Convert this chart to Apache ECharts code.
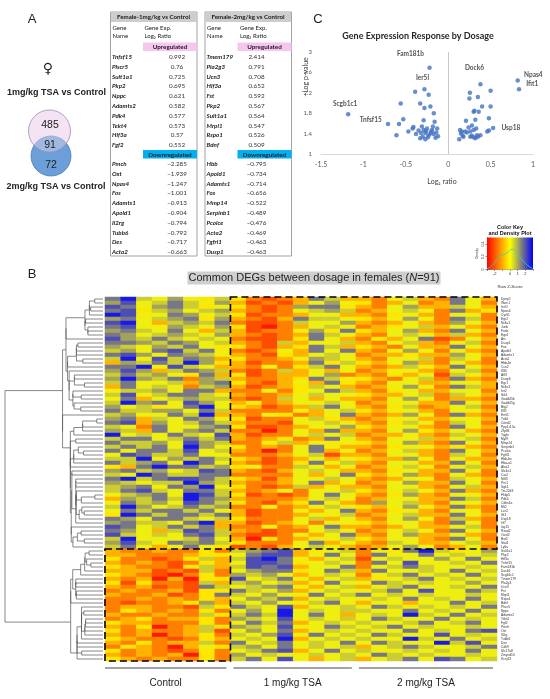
<!DOCTYPE html>
<html>
<head>
<meta charset="utf-8">
<script src="https://cdn.jsdelivr.net/npm/echarts@6.0.0/dist/echarts.min.js"></script>
<style>
html, body { margin: 0; padding: 0; background: #fff; }
#main { width: 550px; height: 699px; }
</style>
</head>
<body>
<div id="main"></div>
<script>
// ---- panel A: venn + tables ----
const vennCounts = [485, 91, 72]
const vennLabels = ['1mg/kg TSA vs Control', '2mg/kg TSA vs Control']

const table1Title = 'Female-1mg/kg vs Control'
const table1UpGenes = ['Tnfsf15', 'Plscr5', 'Sult1a1', 'Pkp2', 'Nppc', 'Adamts2', 'Pdk4', 'Tekt4', 'Hif3a', 'Fgf2']
const table1UpRatio = [0.992, 0.76, 0.725, 0.695, 0.621, 0.582, 0.577, 0.573, 0.57, 0.552]
const table1DownGenes = ['Pmch', 'Oxt', 'Npas4', 'Fos', 'Adamts1', 'Apold1', 'Il2rg', 'Tubb6', 'Des', 'Acta2']
const table1DownRatio = [-2.285, -1.939, -1.247, -1.001, -0.913, -0.904, -0.794, -0.792, -0.717, -0.663]

const table2Title = 'Female-2mg/kg vs Control'
const table2UpGenes = ['Tmem179', 'Pla2g3', 'Ucn3', 'Hif3a', 'Fst', 'Pkp2', 'Sult1a1', 'Mrpl1', 'Rspo1', 'Bdnf']
const table2UpRatio = [2.414, 0.791, 0.708, 0.652, 0.592, 0.567, 0.564, 0.547, 0.526, 0.509]
const table2DownGenes = ['Hbb', 'Apold1', 'Adamts1', 'Fos', 'Mmp14', 'Serpinb1', 'Pcolce', 'Acta2', 'Fgfrl1', 'Dusp1']
const table2DownRatio = [-0.795, -0.734, -0.714, -0.656, -0.522, -0.489, -0.476, -0.469, -0.463, -0.463]

// ---- panel C: volcano ----
const volcanoPoints = [
  [-0.58, 1.59], [-0.53, 1.68], [-0.56, 1.99], [-0.61, 1.37], [-0.47, 1.44], [-0.42, 1.50],
  [-0.41, 1.53], [-0.39, 2.22], [-0.33, 1.99], [-0.28, 1.90], [-0.23, 2.16], [-0.29, 1.66],
  [-0.38, 1.39], [-0.31, 1.54], [-0.29, 1.47], [-0.33, 1.31], [-0.27, 1.41], [-0.25, 1.50],
  [-0.23, 1.37], [-0.20, 1.44], [-0.18, 1.54], [-0.17, 1.39], [-0.16, 1.63], [-0.21, 1.93],
  [-0.15, 1.32], [-0.12, 1.35], [-0.30, 1.34], [-0.27, 1.29], [-0.17, 1.80], [-0.19, 1.47],
  [-0.14, 1.42], [-0.26, 1.45], [-0.35, 1.46], [-0.21, 1.40], [-0.24, 1.33], [-0.13, 1.50],
  [-0.32, 1.41],
  [0.50, 2.24], [0.256, 2.20], [0.25, 2.09], [0.35, 2.12], [0.40, 1.93], [0.50, 1.93],
  [0.31, 1.85], [0.36, 1.83], [0.30, 1.83], [0.48, 1.70], [0.32, 1.67], [0.21, 1.65],
  [0.28, 1.56], [0.24, 1.52], [0.30, 1.47], [0.26, 1.44], [0.14, 1.47], [0.16, 1.44],
  [0.20, 1.44], [0.13, 1.29], [0.18, 1.34], [0.26, 1.34], [0.30, 1.33], [0.35, 1.34],
  [0.38, 1.37], [0.46, 1.44], [0.48, 1.46], [0.15, 1.40], [0.32, 1.31], [0.28, 1.36],
  [0.33, 1.50], [0.17, 1.36], [0.34, 1.37], [0.22, 1.42]
]
const volcanoNamed = [
  ['Scgb1c1', -1.18, 1.78], ['Tnfsf15', -0.71, 1.59], ['Fam181b', -0.22, 2.69], ['Ier5l', -0.28, 2.27],
  ['Dock6', 0.38, 2.37], ['Npas4', 0.82, 2.44], ['Ifit1', 0.835, 2.27], ['Usp18', 0.53, 1.51]
]
const volcanoXTicks = [-1.5, 1, 0.5]   // min, max, step
const volcanoYTicks = [1, 3, 0.4]

// ---- panel B: heatmap (row z-scores, one letter per cell) ----
const zLevel = { R: -2.7, r: -2.1, o: -1.5, a: -0.9, y: -0.3, Y: 0.2, l: 0.6, g: 1.1, G: 1.6, b: 2.1, B: 2.7 }
const sampleGroups = ['Control', '1 mg/kg TSA', '2 mg/kg TSA']
const controlCells = [
  'GBlYgYyl', 'gbYlGlYg', 'bGYgGlyY', 'GbylgYlg', 'BbYYGgYl', 'gGYlgGyg', 'bBYalglG', 'GbYYglYg',
  'gGlYGYal', 'GgYlglYg', 'bglGlYlY', 'GGglGgYl', 'glYglGYy', 'lgYGblGY', 'GbgYGglY', 'lBYblGga',
  'aglGlBgy', 'GGBYblYa', 'gbgalGgl', 'lGlgYyGa', 'gBglGogl', 'lGYYlagG', 'aGYlYolg', 'YllgYGGa',
  'lbYlGGlY', 'YGaYlgll', 'lBgGYbgY', 'gYlyYGBY', 'GllggYGl', 'lgYYGlBa', 'gGalYGgY', 'GbagYlGl',
  'lYoGYYgG', 'glaGYgGl', 'BYlYGlYb', 'lGGYlGlG', 'GllgYbgl', 'lGlGYBgY', 'GYGGlbYl', 'YbGllGYY',
  'llBYglGl', 'GlgGYBGY', 'yaGBGGlg', 'gGlgYlbG', 'lYBGllGG', 'GBlGbbGl', 'glYllBgl', 'lgGYGgBY',
  'lGblYGGl', 'YlgGYBbl', 'aglGlBGg', 'YGlgYbGl', 'lBgYlGlg', 'YGlGGlGY', 'yBGlGGlG', 'GgYGGlYl',
  'gGllYGBa', 'bGYlGlGa', 'GgYalbGl', 'blYlYGbl', 'lBYYYlGY', 'gblYGgGl', 'lGYaYGYy',
  'aooaooyo', 'aaoooayy', 'yooroyla', 'aoaoroya', 'yaooryla', 'aaarorlo', 'yaorRoyo', 'aoaRaRyy',
  'yryoorla', 'aoarorGl', 'oaooaryy', 'aooaroyG', 'ooaoaoya', 'orooayga', 'oaaoorly', 'oyaoaoyo',
  'aooaooly', 'oayoaayo', 'yaaoooyo', 'aoyRoaly', 'yoaooalr', 'aoaRoayo', 'yaooroya', 'aoyoaalo',
  'oyaoRaYy', 'yoaoroyo', 'aoaoaRyo', 'yaoaooyo'
]
const tsa1Cells = [
  'yoroaGla', 'aroraYgY', 'yorogGGy', 'aoroYlgl', 'yrooaYYa', 'aoraGllY', 'orrolYYg', 'yrRoaYlY',
  'arooYgyG', 'aoroaGlY', 'orroyGYa', 'aorlaYYl', 'yorayGla', 'oroYaGYG', 'aoryaYlY', 'yooaYglY',
  'arooaGyl', 'aoYoylGY', 'orolaYaY', 'yroaaYgo', 'aooayGlY', 'yoraYaGy', 'aroaylYa', 'ooYoyYGl',
  'aooaYlYY', 'orolYaYa', 'aYoaYYlY', 'yaroalGY', 'ooooYaYl', 'aoYyoaYG', 'yrooYlya', 'aoorYYlY',
  'yrroaYYg', 'ooRoYaGa', 'arooYlYl', 'aoayoaGY', 'ooYlaYyY', 'yoaoYGYa', 'aoRoYGaY', 'oooaYlra',
  'yaroaYaY', 'aoroyGYl', 'yYoolYaY', 'aoraYlYa', 'ooooYaYG', 'yaraYYlY', 'aooaYGaY', 'yorolaYa',
  'aoaYoYYl', 'yroroYGY', 'aoooaYlY', 'yorayGYa', 'ooYoaYlY', 'arooYaYG', 'arooaYYl', 'yoooYlaY',
  'aroaYoYY', 'ooYoaYGa', 'aorooYlY', 'orroYaYG', 'aRyoaYYl', 'yoooYGaY', 'roraYlYa',
  'lgGbayYl', 'YGbbaYGY', 'lbBGYaYl', 'YbbGyYlY', 'lbGbaYYG', 'YgGGyYGl', 'glgYaYlY', 'bYlGYaYl',
  'lgYlaYGY', 'YlgGYaYl', 'GlYgaYlY', 'lYgYYGYl', 'YglGaYlY', 'lYgYYlGY', 'GlYbaYYl', 'YgYBYlYl',
  'lGlBYGYa', 'glYbYlYl', 'YGlGaYlY', 'glYbYYGl', 'YgYGaYlY', 'lYgbYGYl', 'YlYBaYlY', 'GYlGYlYG',
  'lgYGYlYl', 'YlGbaYGY', 'gYlYYlYl', 'lGYbYaYl'
]
const tsa2Cells = [
  'aoYlaoGYa', 'yoaYoaGYo', 'aoYgaalYa', 'oaYlYoGay', 'aoyYaoYYo', 'yaYgYoGlo', 'aoaYaogYa', 'oayYlaYao',
  'yaYgaoGYa', 'aoYlYalao', 'oyaYGroYa', 'aoYlaoYlo', 'yaoYaaGYa', 'aoYgYoYao', 'oaayaagYa', 'aoYYlolYo',
  'yaYgaoYao', 'aoalYaGYa', 'oaYYaoYlo', 'aoyaYrlYa', 'yaoYloGao', 'aoYYaaYYa', 'oaYgYoGla', 'aoyYaaYYo',
  'yaaYlolYa', 'aoYgYoaao', 'oaYYaaGYa', 'aoyloaYlo', 'yaYYaoYYa', 'aoagYoGao', 'oaYYaaYYa', 'aoylYolYo',
  'yaYYaoGYa', 'aoYgyaYao', 'oaaYaolYa', 'aoYYlaYlo', 'yaYgaoGYa', 'aoyYYayao', 'oaYlaoGYa', 'aoYYaolYo',
  'yaagYoYaa', 'aoYYaaGYo', 'oaYlYoYla', 'aoyYaaGYo', 'yaYgaoYao', 'aoaYYolYa', 'oaYgaaGYo', 'aoYYaoYla',
  'yaYlYaGao', 'aoygaoYYa', 'oaYYaaGlo', 'ogYlaoYYa', 'yaYgYaGao', 'aoyYaoYYo', 'oaYlaaGYa', 'aoYgYolao',
  'yaYYaoGYo', 'aoaYaaYlo', 'oaYlYoGYa', 'aoYgaaYao', 'yaYYaoGYo', 'aolYaaYla', 'oaYgYoaYo',
  'oYyGBlyYg', 'oGYYGYlYl', 'rYlYYgYGY', 'oGYbYYlYG', 'oYlGlYYlY', 'aGYYlYGYl', 'oYlGYlYGY', 'ayYlGYlYl',
  'YGlYlYYgY', 'aYlGYYlYG', 'YlGYbYYGl', 'GYlYlYYlY', 'YlYGYlYGY', 'aYYaYYGYl', 'YGlYlYlYG', 'lYYGYlYGY',
  'YlYBlYGYl', 'YGlYYGYlY', 'lYYlGYlGY', 'YlGYlYYlY', 'lYYGYlYGb', 'YGlYYbYlY', 'lYYBlYGYl', 'YGlYYBlbY',
  'aYlGlYYlG', 'lYYlYlYGY', 'YGlYlYYlY', 'aYlGYbGYl'
]
const geneNames = [
  'Dpep1', 'Wwc1', 'Ier5l', 'Npas4', 'Cyr61', 'Egr2', 'Nr4a1', 'Junb', 'Fosb', 'Egr4', 'Arc', 'Dusp1',
  'Fos', 'Apold1', 'Adamts1', 'Acta2', 'Hbb-bt', 'Ccn2', 'Klf4', 'Atf3', 'Dusp6', 'Egr1', 'Nr4a3', 'Ier2',
  'Sik1', 'Gadd45b', 'Gadd45g', 'Btg2', 'Klf2', 'Errfi1', 'Trib1', 'Cited2', 'Ppp1r15a', 'Zfp36', 'Tagln',
  'Myl9', 'Mmp14', 'Serpinb1', 'Pcolce', 'Fgfrl1', 'Hbb-bs', 'Hba-a1', 'Alas2', 'Slc4a1', 'Car2', 'Nfil3',
  'Per1', 'Sgk1', 'Tsc22d3', 'Fkbp5', 'Pdk4', 'Cdkn1a', 'Mt2', 'Lcn2', 'Ifit1', 'Usp18', 'Irf7', 'Isg15',
  'Rsad2', 'Oasl2', 'Bst2', 'Stat1', 'Ly6a',
  'Sult1a1', 'Pkp2', 'Hif3a', 'Tnfsf15', 'Fam181b', 'Dock6', 'Scgb1c1', 'Tmem179', 'Pla2g3', 'Ucn3', 'Fst',
  'Mrpl1', 'Rspo1', 'Bdnf', 'Plscr5', 'Nppc', 'Adamts2', 'Tekt4', 'Fgf2', 'Pmch', 'Oxt', 'Il2rg', 'Tubb6',
  'Des', 'Cdh9', 'Slc17a8', 'Zmynd10', 'Kcnj13'
]
const upperClusterRows = 63
const keyTicks = [-2, 0, 1, 2]

// ---------------------------------------------------------------
const SANS = 'Liberation Sans, Arial, sans-serif'
const CAL = 'Lato, Open Sans, sans-serif'

const nCtrl = controlCells[0].length
const nT1 = tsa1Cells[0].length
const nT2 = tsa2Cells[0].length
const nCols = nCtrl + nT1 + nT2
const rowsZ = geneNames.map((g, i) => (controlCells[i] + tsa1Cells[i] + tsa2Cells[i]).split('').map(c => zLevel[c]))
const heatData = []
rowsZ.forEach((row, r) => row.forEach((z, c) => heatData.push([c, r, z])))
const sampleNames = []
for (let i = 0; i < nCols; i++) sampleNames.push('S' + (i + 1))

// order-preserving average linkage, so the tree lines up with the rows as drawn
function buildDendrogram(rows) {
  const dist = (a, b) => Math.sqrt(a.reduce((s, v, k) => s + (v - b[k]) * (v - b[k]), 0))
  const D = rows.map(a => rows.map(b => dist(a, b)))
  let clusters = rows.map((r, i) => ({ leaves: [i], y: i, h: 0 }))
  const links = []
  while (clusters.length > 1) {
    let best = 0, bestD = Infinity
    for (let i = 0; i < clusters.length - 1; i++) {
      const A = clusters[i].leaves, B = clusters[i + 1].leaves
      let s = 0
      A.forEach(a => B.forEach(b => { s += D[a][b] }))
      const d = s / (A.length * B.length)
      if (d < bestD) { bestD = d; best = i }
    }
    const L = clusters[best], R = clusters[best + 1]
    const h = Math.max(bestD, L.h, R.h)
    links.push([L.h, L.y, R.h, R.y, h])
    clusters.splice(best, 2, { leaves: L.leaves.concat(R.leaves), y: (L.y + R.y) / 2, h })
  }
  return links
}
const dendroLinks = buildDendrogram(rowsZ)
const dendroMin = Math.min(...dendroLinks.map(l => l[4])) * 0.85
const dendroMax = Math.max(...dendroLinks.map(l => l[4]))

// density of all cell z-scores for the colour key
const allZ = heatData.map(d => d[2])
const bw = 0.55
const densityLine = []
for (let x = -3; x <= 3.001; x += 0.1) {
  const s = allZ.reduce((acc, z) => acc + Math.exp(-0.5 * ((x - z) / bw) ** 2), 0)
  densityLine.push([x, s / (allZ.length * bw * Math.sqrt(2 * Math.PI))])
}

// ---- graphic for panel A and loose texts ----
const graphics = []
const text = (x, y, s, o) => graphics.push({
  type: 'text', x, y, silent: true, z: 10,
  style: Object.assign({ text: s, fontSize: 6.3, fontFamily: CAL, fill: '#1a1a1a', align: 'left', verticalAlign: 'middle' }, o || {})
})
const rect = (x, y, w, h, st) => graphics.push({ type: 'rect', silent: true, z: 5, shape: { x, y, width: w, height: h }, style: st })
const fmt = v => (v < 0 ? '\u2212' + Math.abs(v) : String(v))

function table(x0, title, upG, upV, downG, downV, valX, headX) {
  rect(x0, 12, 86.5, 244, { fill: '#fff', stroke: '#8a8a8a', lineWidth: 0.8 })
  rect(x0 + 0.4, 12.4, 85.7, 9.6, { fill: '#cdcdcd' })
  text(x0 + 43, 17.3, title, { align: 'center', fontWeight: 'bold', fontSize: 6.2 })
  text(x0 + 2, 28, 'Gene', { fontSize: 6 })
  text(x0 + 2, 36, 'Name', { fontSize: 6 })
  text(headX, 28, 'Gene Exp.', { fontSize: 6 })
  text(headX, 36, 'Log\u2082 Ratio', { fontSize: 6 })
  rect(x0 + 32.5, 42.5, 54, 8.6, { fill: '#f6c6f1' })
  text(x0 + 59.5, 47, 'Upregulated', { align: 'center', fontWeight: 'bold', fontSize: 6.3 })
  upG.forEach((g, i) => {
    text(x0 + 1.5, 57 + 9.8 * i, g, { fontStyle: 'italic', fontWeight: 'bold', fontSize: 6.2 })
    text(valX, 57 + 9.8 * i, fmt(upV[i]), { align: 'center', fontSize: 6.3, fill: '#333' })
  })
  rect(x0 + 32.5, 150, 54, 8.6, { fill: '#00b0f0' })
  text(x0 + 59.5, 154.5, 'Downregulated', { align: 'center', fontWeight: 'bold', fontSize: 6.3 })
  downG.forEach((g, i) => {
    text(x0 + 1.5, 164 + 9.8 * i, g, { fontStyle: 'italic', fontWeight: 'bold', fontSize: 6.2 })
    text(valX, 164 + 9.8 * i, fmt(downV[i]), { align: 'center', fontSize: 6.3, fill: '#333' })
  })
}
table(110.5, table1Title, table1UpGenes, table1UpRatio, table1DownGenes, table1DownRatio, 177, 144.5)
table(205, table2Title, table2UpGenes, table2UpRatio, table2DownGenes, table2DownRatio, 256.5, 240)

// venn
graphics.push({ type: 'circle', silent: true, shape: { cx: 49.5, cy: 131, r: 21 }, style: { fill: '#f3e4f3' } })
graphics.push({ type: 'circle', silent: true, shape: { cx: 51, cy: 156, r: 20 }, style: { fill: '#6c9fd8', stroke: '#4f7fbf', lineWidth: 0.8 } })
graphics.push({ type: 'circle', silent: true, shape: { cx: 49.5, cy: 131, r: 21 }, style: { fill: 'rgba(243,226,243,0.4)', stroke: '#a58cbb', lineWidth: 0.8 } })
text(50, 125.5, String(vennCounts[0]), { align: 'center', fontFamily: SANS, fontSize: 10.5, fill: '#222' })
text(50, 145.5, String(vennCounts[1]), { align: 'center', fontFamily: SANS, fontSize: 10.5, fill: '#222' })
text(51, 165.5, String(vennCounts[2]), { align: 'center', fontFamily: SANS, fontSize: 10.5, fill: '#222' })
text(56.5, 93, vennLabels[0], { align: 'center', fontFamily: SANS, fontSize: 9, fontWeight: 'bold', fill: '#222' })
text(56, 187, vennLabels[1], { align: 'center', fontFamily: SANS, fontSize: 9, fontWeight: 'bold', fill: '#222' })
text(48, 69, '\u2640', { align: 'center', fontFamily: 'DejaVu Sans', fontSize: 14, fontWeight: 'bold', fill: '#222' })

// panel letters and titles
text(32, 19, 'A', { align: 'center', fontFamily: SANS, fontSize: 13, fill: '#222' })
text(32, 274, 'B', { align: 'center', fontFamily: SANS, fontSize: 13, fill: '#222' })
text(318, 19, 'C', { align: 'center', fontFamily: SANS, fontSize: 13, fill: '#222' })
text(418, 36, 'Gene Expression Response by Dosage', { align: 'center', fontFamily: CAL, fontSize: 9, fontWeight: 'bold', fill: '#262626' })
text(306, 77, '\u2212Log p-value', { align: 'center', fontFamily: CAL, fontSize: 7, fill: '#404040' })
graphics[graphics.length - 1].rotation = Math.PI / 2
text(442, 182, 'Log\u2082 ratio', { align: 'center', fontFamily: CAL, fontSize: 7, fill: '#404040' })
text(314, 278, 'Common DEGs between dosage in females ({i|N}=91)', {
  align: 'center', fontFamily: SANS, fontSize: 11, fill: '#222', backgroundColor: '#cfcfcf', padding: [1, 1],
  rich: { i: { fontStyle: 'italic', fontFamily: SANS, fontSize: 11 } }
})
text(510, 227.5, 'Color Key', { align: 'center', fontFamily: SANS, fontSize: 5.5, fontWeight: 'bold', fill: '#111' })
text(510, 233.5, 'and Density Plot', { align: 'center', fontFamily: SANS, fontSize: 5.5, fontWeight: 'bold', fill: '#111' })
text(510, 287, 'Row Z-Score', { align: 'center', fontFamily: SANS, fontSize: 4.3, fill: '#333' })

// ---- series ----
const labelPos = {
  Scgb1c1: { position: 'top', distance: 5, offset: [-3, 0] },
  Tnfsf15: { position: 'left', distance: 4, offset: [0, -4] },
  Fam181b: { position: 'top', distance: 4, offset: [-19, -4] },
  Ier5l: { position: 'top', distance: 6, offset: [-2, 0] },
  Dock6: { position: 'top', distance: 4, offset: [-6, -6] },
  Npas4: { position: 'right', distance: 4, offset: [0, -6] },
  Ifit1: { position: 'right', distance: 4, offset: [1, -5] },
  Usp18: { position: 'right', distance: 6, offset: [0, 0] }
}
const volcanoData = volcanoPoints.map(p => ({ value: p }))
volcanoNamed.forEach(([name, x, y]) => volcanoData.push({
  name, value: [x, y],
  label: Object.assign({ show: true, formatter: name, fontFamily: CAL, fontWeight: 'bold', fontSize: 6.5, color: '#262626' }, labelPos[name])
}))

const groupRanges = [[0, nCtrl - 1], [nCtrl, nCtrl + nT1 - 1], [nCtrl + nT1, nCols - 1]]
const lastRow = geneNames.length - 1
const boxes = [[nCtrl, 0, nCols - 1, upperClusterRows - 1], [0, upperClusterRows, nCtrl - 1, lastRow]]

const option = {
  animation: false,
  backgroundColor: '#fff',
  graphic: graphics,
  grid: [
    { left: 321, top: 52, width: 212, height: 102 },
    { left: 105, top: 297, width: 392, height: 364 },
    { left: 5, top: 297, width: 98, height: 364 },
    { left: 487, top: 237.5, width: 46, height: 32 }
  ],
  xAxis: [
    {
      gridIndex: 0, type: 'value', min: volcanoXTicks[0], max: volcanoXTicks[1], interval: volcanoXTicks[2],
      axisLine: { onZero: false, lineStyle: { color: '#d9d9d9', width: 1 } }, axisTick: { show: false },
      splitLine: { show: false },
      axisLabel: { fontFamily: CAL, fontSize: 7, color: '#595959', margin: 7 }
    },
    { gridIndex: 1, type: 'category', data: sampleNames, show: false },
    { gridIndex: 2, type: 'value', inverse: true, min: dendroMin, max: dendroMax, show: false },
    {
      gridIndex: 3, type: 'value', min: -3, max: 3, interval: 1,
      axisLine: { onZero: false, lineStyle: { color: '#222', width: 0.5 } },
      axisTick: { show: true, length: 1.5, lineStyle: { color: '#222', width: 0.5 } },
      splitLine: { show: false },
      axisLabel: {
        fontFamily: SANS, fontSize: 4, color: '#333', margin: 2, showMinLabel: true, showMaxLabel: true,
        formatter: v => (keyTicks.indexOf(Math.round(v)) >= 0 ? String(Math.round(v)) : '')
      }
    }
  ],
  yAxis: [
    {
      gridIndex: 0, type: 'value', min: volcanoYTicks[0], max: volcanoYTicks[1], interval: volcanoYTicks[2],
      axisLine: { show: false }, axisTick: { show: false }, splitLine: { show: false },
      axisLabel: { fontFamily: CAL, fontSize: 6, color: '#595959', margin: 9, formatter: v => String(Math.round(v * 10) / 10) }
    },
    {
      gridIndex: 1, type: 'category', data: geneNames, inverse: true, position: 'right',
      axisLine: { show: false }, axisTick: { show: false }, splitLine: { show: false },
      axisLabel: { interval: 0, fontFamily: SANS, fontSize: 3.3, color: '#333', margin: 4 }
    },
    { gridIndex: 2, type: 'value', inverse: true, min: -0.5, max: lastRow + 0.5, show: false },
    {
      gridIndex: 3, type: 'value', min: 0, max: 0.5, interval: 0.2,
      axisLine: { show: true, onZero: false, lineStyle: { color: '#222', width: 0.5 } },
      axisTick: { show: true, length: 1.5, lineStyle: { color: '#222', width: 0.5 } },
      splitLine: { show: false },
      name: 'Density', nameLocation: 'middle', nameGap: 8, nameRotate: 90,
      nameTextStyle: { fontFamily: SANS, fontSize: 3.2, color: '#333' },
      axisLabel: { fontFamily: SANS, fontSize: 3.6, color: '#333', margin: 2, rotate: 90, showMaxLabel: false }
    }
  ],
  visualMap: {
    type: 'continuous', show: false, seriesIndex: 1, dimension: 2, min: -3, max: 3,
    inRange: { color: ['#ff0000', '#ffff00', '#0000ff'] }
  },
  series: [
    {
      type: 'scatter', xAxisIndex: 0, yAxisIndex: 0, data: volcanoData, symbolSize: 4.5,
      itemStyle: { color: '#4472c4' }, emphasis: { disabled: true },
      markLine: {
        silent: true, symbol: 'none', label: { show: false },
        lineStyle: { color: '#c8c8c8', width: 1, type: 'solid' },
        data: [{ xAxis: 0 }]
      }
    },
    {
      type: 'heatmap', xAxisIndex: 1, yAxisIndex: 1, data: heatData,
      itemStyle: { borderWidth: 0 }, emphasis: { disabled: true }, progressive: 0
    },
    {
      type: 'custom', xAxisIndex: 1, yAxisIndex: 1, clip: false, silent: true, z: 5,
      data: boxes, encode: { x: [0, 2], y: [1, 3] },
      renderItem: (params, api) => {
        const a = api.coord([api.value(0), api.value(1)])
        const b = api.coord([api.value(2), api.value(3)])
        const s = api.size([1, 1])
        return {
          type: 'rect',
          shape: { x: a[0] - s[0] / 2, y: a[1] - s[1] / 2, width: b[0] - a[0] + s[0], height: b[1] - a[1] + s[1] },
          style: { fill: 'none', stroke: '#000', lineWidth: 1.6, lineDash: [7, 4] }
        }
      }
    },
    {
      type: 'custom', xAxisIndex: 1, yAxisIndex: 1, clip: false, silent: true,
      data: groupRanges, encode: { x: [0, 1] },
      renderItem: (params, api) => {
        const s = api.size([1, 1])
        const a = api.coord([api.value(0), lastRow])
        const b = api.coord([api.value(1), lastRow])
        const x0 = a[0] - s[0] / 2 + (params.dataIndex ? 3 : 0)
        const x1 = b[0] + s[0] / 2 - 4
        const y = a[1] + s[1] / 2 + 7
        return {
          type: 'group',
          children: [
            { type: 'line', shape: { x1: x0, y1: y, x2: x1, y2: y }, style: { stroke: '#333', lineWidth: 0.9 } },
            {
              type: 'text', x: (x0 + x1) / 2, y: y + 15,
              style: { text: sampleGroups[params.dataIndex], fontFamily: SANS, fontSize: 10, fill: '#222', align: 'center', verticalAlign: 'middle' }
            }
          ]
        }
      }
    },
    {
      type: 'custom', xAxisIndex: 2, yAxisIndex: 2, clip: false, silent: true,
      data: dendroLinks, encode: { x: [0, 2, 4], y: [1, 3] },
      renderItem: (params, api) => {
        const p = (h, y) => api.coord([Math.max(h, dendroMin), y])
        const hL = api.value(0), yL = api.value(1), hR = api.value(2), yR = api.value(3), h = api.value(4)
        return {
          type: 'polyline',
          shape: { points: [p(hL, yL), p(h, yL), p(h, yR), p(hR, yR)] },
          style: { fill: 'none', stroke: '#555', lineWidth: 0.7 }
        }
      }
    },
    {
      type: 'line', xAxisIndex: 3, yAxisIndex: 3, data: densityLine, showSymbol: false, silent: true,
      lineStyle: { color: '#2ad4c8', width: 0.8 },
      markArea: {
        silent: true, z: 1,
        itemStyle: {
          color: new echarts.graphic.LinearGradient(0, 0, 1, 0, [
            { offset: 0, color: '#ff0000' }, { offset: 0.5, color: '#ffff00' }, { offset: 1, color: '#0000ff' }
          ])
        },
        data: [[{ xAxis: -3, yAxis: 0 }, { xAxis: 3, yAxis: 0.5 }]]
      }
    }
  ]
}

const chart = echarts.init(document.getElementById('main'))
chart.setOption(option)
</script>
</body>
</html>
